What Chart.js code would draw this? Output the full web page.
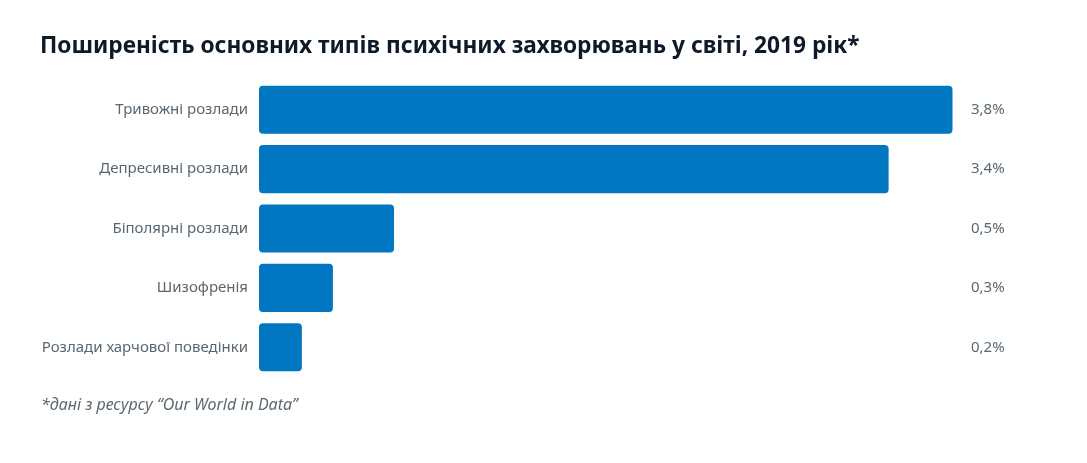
<!DOCTYPE html>
<html>
<head>
<meta charset="utf-8">
<script src="https://cdn.jsdelivr.net/npm/chart.js@4.4.1/dist/chart.umd.min.js"></script>
<style>
  html, body { margin: 0; padding: 0; background: #ffffff; }
  #wrap { position: relative; width: 1087px; height: 463px; overflow: hidden; }
  #title { position: absolute; left: 40px; top: 29px; font-family: "Noto Sans", sans-serif; font-weight: 700; font-size: 22.7px; color: #0f1a28; white-space: nowrap; }
  #note { position: absolute; left: 41px; top: 393px; font-family: "Noto Sans", sans-serif; font-style: italic; font-size: 16px; color: #5d6970; white-space: nowrap; }
  #c { position: absolute; left: 0; top: 0; }
</style>
</head>
<body>
<div id="wrap">
  <canvas id="c" width="1087" height="463"></canvas>
  <div id="title">Поширеність основних типів психічних захворювань у світі, 2019 рік*</div>
  <div id="note">*дані з ресурсу “Our World in Data”</div>
</div>
<script>
const categories = ["Тривожні розлади", "Депресивні розлади", "Біполярні розлади", "Шизофренія", "Розлади харчової поведінки"];
const barValues = [3.8, 3.45, 0.74, 0.405, 0.235];
const valueLabels = ["3,8%", "3,4%", "0,5%", "0,3%", "0,2%"];

const labelColor = "#5b6770";
const barColor = "#0077c0";
const fontFamily = "'Noto Sans', sans-serif";

const valueLabelPlugin = {
  id: "valueLabels",
  afterDatasetsDraw(chart) {
    const ctx = chart.ctx;
    const meta = chart.getDatasetMeta(0);
    ctx.save();
    ctx.font = "15px " + fontFamily;
    ctx.fillStyle = labelColor;
    ctx.textAlign = "left";
    ctx.textBaseline = "middle";
    meta.data.forEach((bar, i) => {
      ctx.fillText(valueLabels[i], 971, bar.y);
    });
    ctx.restore();
  }
};

new Chart(document.getElementById("c"), {
  type: "bar",
  data: {
    labels: categories,
    datasets: [{
      data: barValues,
      backgroundColor: barColor,
      borderRadius: 4,
      borderSkipped: false,
      categoryPercentage: 1.0,
      barPercentage: 0.81
    }]
  },
  options: {
    indexAxis: "y",
    responsive: false,
    animation: false,
    devicePixelRatio: 1,
    layout: { padding: { left: 0, right: 98, top: 80, bottom: 86 } },
    plugins: { legend: { display: false }, tooltip: { enabled: false }, title: { display: false } },
    scales: {
      x: { display: false, min: 0, max: 4.0 },
      y: {
        afterFit(scale) { scale.width = 259; },
        grid: { display: false, drawTicks: false },
        border: { display: false },
        ticks: {
          padding: 11,
          color: labelColor,
          font: { family: fontFamily, size: 15 }
        }
      }
    }
  },
  plugins: [valueLabelPlugin]
});
</script>
</body>
</html>
